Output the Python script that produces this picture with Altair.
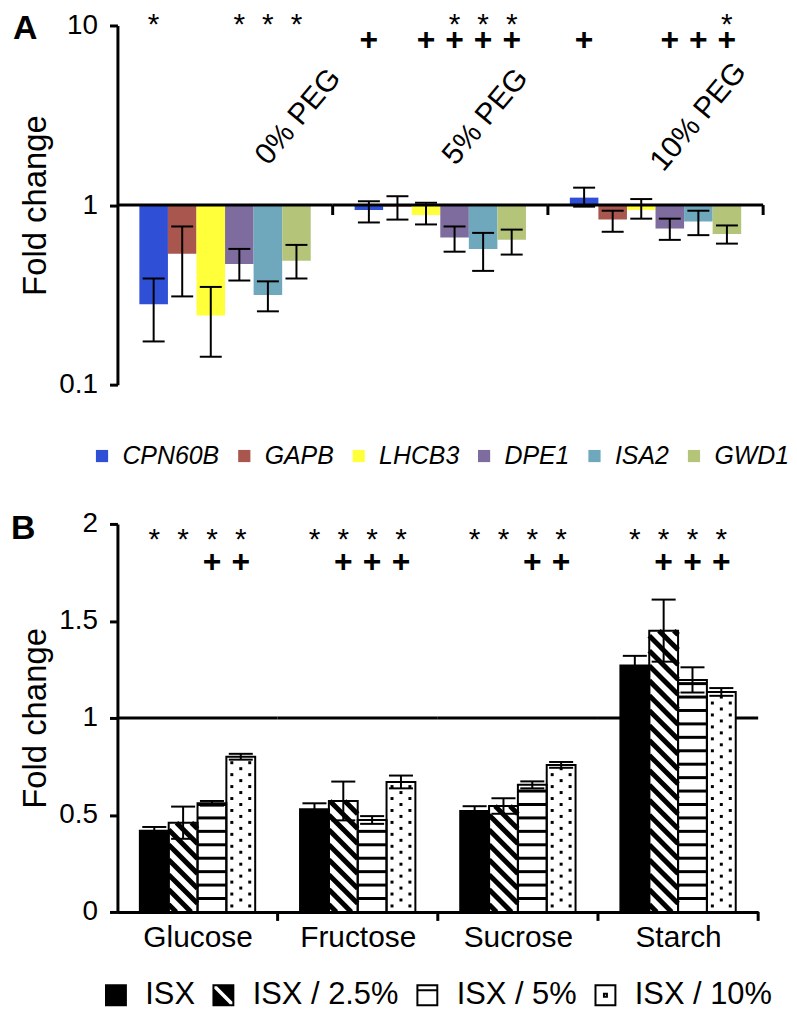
import json
import altair as alt
import pandas as pd

# ---------------- Panel A data (fold change, log scale) ----------------
genes = ["CPN60B", "GAPB", "LHCB3", "DPE1", "ISA2", "GWD1"]
gene_colors = ["#2E4FD6", "#A9564F", "#FFFF3A", "#7E6C9E", "#6FA8BC", "#B4C57A"]
peg_groups = ["0% PEG", "5% PEG", "10% PEG"]

fold_peg0 = [0.28, 0.535, 0.243, 0.47, 0.316, 0.49]
low_peg0 = [0.174, 0.31, 0.143, 0.38, 0.256, 0.39]
high_peg0 = [0.39, 0.76, 0.35, 0.57, 0.376, 0.60]
fold_peg5 = [0.94, 0.98, 0.88, 0.66, 0.57, 0.64]
low_peg5 = [0.80, 0.83, 0.78, 0.55, 0.43, 0.53]
high_peg5 = [1.05, 1.12, 1.03, 0.76, 0.70, 0.73]
fold_peg10 = [1.10, 0.83, 0.94, 0.74, 0.81, 0.69]
low_peg10 = [0.98, 0.71, 0.84, 0.64, 0.68, 0.61]
high_peg10 = [1.25, 0.93, 1.08, 0.84, 0.93, 0.77]
star_peg0 = [1, 0, 0, 1, 1, 1]
star_peg5 = [0, 0, 0, 1, 1, 1]
star_peg10 = [0, 0, 0, 0, 0, 1]
plus_peg0 = [0, 0, 0, 0, 0, 0]
plus_peg5 = [1, 0, 1, 1, 1, 1]
plus_peg10 = [1, 0, 0, 1, 1, 1]

# ---------------- Panel B data (fold change, linear) ----------------
sugars = ["Glucose", "Fructose", "Sucrose", "Starch"]
treatments = ["ISX", "ISX / 2.5%", "ISX / 5%", "ISX / 10%"]
fold_isx = [0.418, 0.53, 0.52, 1.27]
err_isx = [0.02, 0.03, 0.025, 0.05]
fold_isx25 = [0.46, 0.572, 0.546, 1.45]
err_isx25 = [0.083, 0.10, 0.04, 0.16]
fold_isx5 = [0.56, 0.474, 0.655, 1.196]
err_isx5 = [0.012, 0.02, 0.018, 0.065]
fold_isx10 = [0.80, 0.67, 0.758, 1.134]
err_isx10 = [0.015, 0.033, 0.015, 0.02]
star_isx = [1, 1, 1, 1]
star_isx25 = [1, 1, 1, 1]
star_isx5 = [1, 1, 1, 1]
star_isx10 = [1, 1, 1, 1]
plus_isx = [0, 0, 0, 0]
plus_isx25 = [0, 1, 0, 1]
plus_isx5 = [1, 1, 1, 1]
plus_isx10 = [1, 1, 1, 1]

panel_letters = ["A", "B"]

# ---------------- style / layout constants ----------------
FONT = "Liberation Sans"
WA, HA = 649, 361
WB, HB = 644, 390
BAR_A = 0.1327
CAP_A = 0.051
BAR_B = 0.18
CAP_B = 0.075
PX_X_B = WB / len(sugars)
PX_Y_B = HB / 2.0
STRIPE_P = 13.5 / PX_Y_B
HATCH_P = 15.0 / PX_Y_B
HATCH_D = BAR_B * PX_X_B / PX_Y_B
HATCH_K = PX_Y_B / PX_X_B
DOT_R = 6.0 / PX_Y_B
DOT_DX = 9.0 / PX_X_B
STAR_Y_A, PLUS_Y_A = 10.0, 8.3
STAR_Y_B, PLUS_Y_B = 1.955, 1.806
PEG_LABEL_POS = [0.84, 0.71, 0.70]
PEG_LABEL_Y = 3.1

# ---------------- tables ----------------
rowsA = []
for gi, (fc, lo, hi, st, pl) in enumerate(zip(
        [fold_peg0, fold_peg5, fold_peg10], [low_peg0, low_peg5, low_peg10],
        [high_peg0, high_peg5, high_peg10], [star_peg0, star_peg5, star_peg10],
        [plus_peg0, plus_peg5, plus_peg10])):
    for si, g in enumerate(genes):
        rowsA.append(dict(gi=gi, si=si, gene=g, value=fc[si], lo=lo[si], hi=hi[si],
                          star=st[si], plus=pl[si]))
dfA = pd.DataFrame(rowsA)
dfGA = pd.DataFrame({"gi": list(range(len(peg_groups))), "group": peg_groups})

rowsB = []
for si, (t, fc, er, st, pl) in enumerate(zip(
        treatments, [fold_isx, fold_isx25, fold_isx5, fold_isx10],
        [err_isx, err_isx25, err_isx5, err_isx10],
        [star_isx, star_isx25, star_isx5, star_isx10],
        [plus_isx, plus_isx25, plus_isx5, plus_isx10])):
    for gi, s in enumerate(sugars):
        rowsB.append(dict(gi=gi, si=si, sugar=s, treatment=t, value=fc[gi], err=er[gi],
                          star=st[gi], plus=pl[gi]))
dfB = pd.DataFrame(rowsB)
dfGB = pd.DataFrame({"gi": list(range(len(sugars))), "sugar": sugars})
dfT = pd.DataFrame({"treatment": treatments})
dfLetters = pd.DataFrame({"letter": panel_letters})

# ---------------- shared encodings ----------------
SCALE_XA = alt.Scale(domain=[0, len(peg_groups)], nice=False, zero=False)
SCALE_YA = alt.Scale(type="log", domain=[0.1, 10], nice=False)
AXIS_YA = alt.Axis(values=[0.1, 1, 10], format="~g", grid=False, domainWidth=3,
                   tickWidth=3, tickSize=8, labelFontSize=28, labelPadding=12,
                   titleFontSize=33, titleFontWeight="normal", titlePadding=6,
                   domainColor="black", tickColor="black", labelColor="black",
                   titleColor="black")


def XA(f):
    return alt.X(f"{f}:Q", scale=SCALE_XA, axis=None)


def YA(f):
    return alt.Y(f"{f}:Q", scale=SCALE_YA, axis=AXIS_YA, title="Fold change")


SCALE_XB = alt.Scale(domain=[0, len(sugars)], nice=False, zero=False)
SCALE_YB = alt.Scale(domain=[0, 2], nice=False)
AXIS_XB = alt.Axis(values=[i + 0.5 for i in range(len(sugars))],
                   labelExpr=f"{json.dumps(sugars)}[floor(datum.value)]",
                   ticks=False, grid=False, domainWidth=3, domainColor="black",
                   labelFontSize=30, labelPadding=11, labelColor="black",
                   labelFlush=False)
AXIS_YB = alt.Axis(values=[0, 0.5, 1, 1.5, 2], format="~g", grid=False, domainWidth=3,
                   tickWidth=3, tickSize=8, labelFontSize=28, labelPadding=12,
                   titleFontSize=33, titleFontWeight="normal", titlePadding=6,
                   domainColor="black", tickColor="black", labelColor="black",
                   titleColor="black")


def XB(f):
    return alt.X(f"{f}:Q", scale=SCALE_XB, axis=AXIS_XB, title=None)


def YB(f):
    return alt.Y(f"{f}:Q", scale=SCALE_YB, axis=AXIS_YB, title="Fold change")


# ---------------- Panel A ----------------
LEG_A = alt.Legend(orient="none", legendX=-28, legendY=420, direction="horizontal",
                   columns=len(genes), title=None, symbolType="square", symbolSize=150,
                   labelFontSize=25, labelFontStyle="italic", labelOffset=8,
                   columnPadding=12, labelColor="black", symbolStrokeWidth=0, padding=0)

baseA = alt.Chart(dfA).transform_calculate(
    xc=f"datum.gi + 0.5 + (datum.si - 2.5) * {BAR_A}",
    xl=f"datum.gi + 0.5 + (datum.si - 3) * {BAR_A}",
    xr=f"datum.gi + 0.5 + (datum.si - 2) * {BAR_A}",
    cl=f"datum.gi + 0.5 + (datum.si - 2.5) * {BAR_A} - {CAP_A}",
    cr=f"datum.gi + 0.5 + (datum.si - 2.5) * {BAR_A} + {CAP_A}",
    one="1",
)

barsA = baseA.mark_rect().encode(
    x=XA("xl"), x2="xr:Q", y=YA("value"), y2="one:Q",
    fill=alt.Fill("gene:N", scale=alt.Scale(domain=genes, range=gene_colors), legend=LEG_A),
)
errA = baseA.mark_rule(color="black", strokeWidth=2).encode(x=XA("xc"), y=YA("lo"), y2="hi:Q")
capLoA = baseA.mark_rule(color="black", strokeWidth=2).encode(x=XA("cl"), x2="cr:Q", y=YA("lo"))
capHiA = baseA.mark_rule(color="black", strokeWidth=2).encode(x=XA("cl"), x2="cr:Q", y=YA("hi"))

gA = alt.Chart(dfGA).transform_calculate(
    x0="datum.gi", x1="datum.gi + 1", one="1",
    lx=f"datum.gi + {json.dumps(PEG_LABEL_POS)}[datum.gi]", ly=f"{PEG_LABEL_Y}",
)
baseLineA = gA.mark_rule(color="black", strokeWidth=3).encode(x=XA("x0"), x2="x1:Q", y=YA("one"))
ticksA = gA.mark_rule(color="black", strokeWidth=3, y2Offset=10).encode(
    x=XA("x1"), y=YA("one"), y2="one:Q")
pegLabels = gA.mark_text(angle=310, fontSize=30, align="center", baseline="middle",
                         color="black").encode(x=XA("lx"), y=YA("ly"), text="group:N")

starsA = baseA.transform_filter("datum.star == 1").transform_calculate(
    sy=f"{STAR_Y_A}").mark_text(text="*", fontSize=30, color="black").encode(
    x=XA("xc"), y=YA("sy"))
plusA = baseA.transform_filter("datum.plus == 1").transform_calculate(
    py=f"{PLUS_Y_A}").mark_text(text="+", fontSize=32, fontWeight="bold", color="black").encode(
    x=XA("xc"), y=YA("py"))

letterA = alt.Chart(dfLetters).transform_filter("datum.letter == 'A'").mark_text(
    fontSize=34, fontWeight="bold", align="left", baseline="alphabetic", color="black"
).encode(x=alt.value(-105), y=alt.value(14), text="letter:N")

panelA = alt.layer(barsA, errA, capLoA, capHiA, baseLineA, ticksA, pegLabels, starsA, plusA,
                   letterA).properties(width=WA, height=HA)

# ---------------- Panel B ----------------
PATH_SQ = "M-1,-1H1V1H-1Z"
legend_paths = [
    PATH_SQ,
    PATH_SQ + " M-1,-1V-0.6L0.6,1H1V0.6L-0.6,-1Z",
    PATH_SQ + " M-1,-0.5H1",
    PATH_SQ + " M-0.15,-0.15H0.15V0.15H-0.15Z",
]
legend_fills = ["black", "black", "white", "white"]
legend_strokes = ["black", "black", "black", "black"]
LEG_B = alt.Legend(orient="none", legendX=-17, legendY=458, direction="horizontal",
                   columns=len(treatments), title=None, symbolSize=400,
                   symbolStrokeColor="black", symbolStrokeWidth=2, labelFontSize=31,
                   labelOffset=14, columnPadding=13, labelColor="black", symbolOpacity=1,
                   padding=0)

baseB = alt.Chart(dfB).transform_calculate(
    xc=f"datum.gi + 0.5 + (datum.si - 1.5) * {BAR_B}",
    xl=f"datum.gi + 0.5 + (datum.si - 2) * {BAR_B}",
    xr=f"datum.gi + 0.5 + (datum.si - 1) * {BAR_B}",
    cl=f"datum.gi + 0.5 + (datum.si - 1.5) * {BAR_B} - {CAP_B}",
    cr=f"datum.gi + 0.5 + (datum.si - 1.5) * {BAR_B} + {CAP_B}",
    lo="datum.value - datum.err",
    hi="datum.value + datum.err",
    zero="0",
)

gB = alt.Chart(dfGB).transform_calculate(x0="datum.gi", x1="datum.gi + 1", one="1", zero="0")
refLineB = gB.mark_rule(color="black", strokeWidth=3).encode(x=XB("x0"), x2="x1:Q", y=YB("one"))

barsB = baseB.mark_rect().encode(
    x=XB("xl"), x2="xr:Q", y=YB("zero"), y2="value:Q",
    fill=alt.condition("datum.si == 0", alt.value("black"), alt.value("white")),
)

stripesB = baseB.transform_filter("datum.si == 2").transform_calculate(
    ys=f"sequence({STRIPE_P}, datum.value, {STRIPE_P})"
).transform_flatten(["ys"]).mark_rule(color="black", strokeWidth=3).encode(
    x=XB("xl"), x2="xr:Q", y=YB("ys"))

hatchB = baseB.transform_filter("datum.si == 1").transform_calculate(
    y0=f"sequence({HATCH_P / 2}, datum.value + {HATCH_D}, {HATCH_P})"
).transform_flatten(["y0"]).transform_calculate(
    ys="min(datum.y0, datum.value)",
    ye=f"max(datum.y0 - {HATCH_D}, 0)",
).transform_calculate(
    xs=f"datum.xl + (datum.y0 - datum.ys) * {HATCH_K}",
    xe=f"datum.xl + (datum.y0 - datum.ye) * {HATCH_K}",
).mark_rule(color="black", strokeWidth=5, strokeCap="butt").encode(
    x=XB("xs"), x2="xe:Q", y=YB("ys"), y2="ye:Q")

dotsBase = baseB.transform_filter("datum.si == 3")
dotsRowA = dotsBase.transform_calculate(
    dy_=f"sequence({DOT_R}, datum.value - {DOT_R / 2}, {2 * DOT_R})"
).transform_flatten(["dy_"]).transform_calculate(
    dl=f"datum.xc - {DOT_DX}", dr=f"datum.xc + {DOT_DX}")
dotsL = dotsRowA.mark_square(size=9, color="black", opacity=1).encode(x=XB("dl"), y=YB("dy_"))
dotsR = dotsRowA.mark_square(size=9, color="black", opacity=1).encode(x=XB("dr"), y=YB("dy_"))
dotsC = dotsBase.transform_calculate(
    dy_=f"sequence({2 * DOT_R}, datum.value - {DOT_R / 2}, {2 * DOT_R})"
).transform_flatten(["dy_"]).mark_square(size=9, color="black", opacity=1).encode(
    x=XB("xc"), y=YB("dy_"))

outlineB = baseB.mark_rect(fillOpacity=0, stroke="black", strokeWidth=2).encode(
    x=XB("xl"), x2="xr:Q", y=YB("zero"), y2="value:Q")

errB = baseB.mark_rule(color="black", strokeWidth=2).encode(x=XB("xc"), y=YB("lo"), y2="hi:Q")
capLoB = baseB.mark_rule(color="black", strokeWidth=2).encode(x=XB("cl"), x2="cr:Q", y=YB("lo"))
capHiB = baseB.mark_rule(color="black", strokeWidth=2).encode(x=XB("cl"), x2="cr:Q", y=YB("hi"))

ticksB = gB.mark_rule(color="black", strokeWidth=3, y2Offset=9).encode(
    x=XB("x1"), y=YB("zero"), y2="zero:Q")

starsB = baseB.transform_filter("datum.star == 1").transform_calculate(
    sy=f"{STAR_Y_B}").mark_text(text="*", fontSize=30, dy=7, color="black").encode(
    x=XB("xc"), y=YB("sy"))
plusB = baseB.transform_filter("datum.plus == 1").transform_calculate(
    py=f"{PLUS_Y_B}").mark_text(text="+", fontSize=32, fontWeight="bold", color="black").encode(
    x=XB("xc"), y=YB("py"))

letterB = alt.Chart(dfLetters).transform_filter("datum.letter == 'B'").mark_text(
    fontSize=34, fontWeight="bold", align="left", baseline="alphabetic", color="black"
).encode(x=alt.value(-107), y=alt.value(15), text="letter:N")

legendB = alt.Chart(dfT).transform_filter("false").mark_point(
    filled=True, opacity=1, strokeWidth=2).encode(
    shape=alt.Shape("treatment:N", scale=alt.Scale(domain=treatments, range=legend_paths),
                    legend=LEG_B),
    fill=alt.Fill("treatment:N", scale=alt.Scale(domain=treatments, range=legend_fills),
                  legend=LEG_B),
    stroke=alt.Stroke("treatment:N", scale=alt.Scale(domain=treatments, range=legend_strokes),
                      legend=LEG_B),
)

panelB = alt.layer(refLineB, barsB, stripesB, hatchB, dotsL, dotsR, dotsC, outlineB,
                   errB, capLoB, capHiB, ticksB, starsB, plusB, letterB, legendB).properties(
    width=WB, height=HB)

chart = alt.vconcat(panelA, panelB, spacing=41).resolve_scale(
    fill="independent", shape="independent", stroke="independent"
).properties(
    padding={"left": 3, "top": 0, "right": 0, "bottom": 0}
).configure(font=FONT).configure_view(stroke=None)

chart.save("out.html", embed_options={"renderer": "svg", "actions": False})
